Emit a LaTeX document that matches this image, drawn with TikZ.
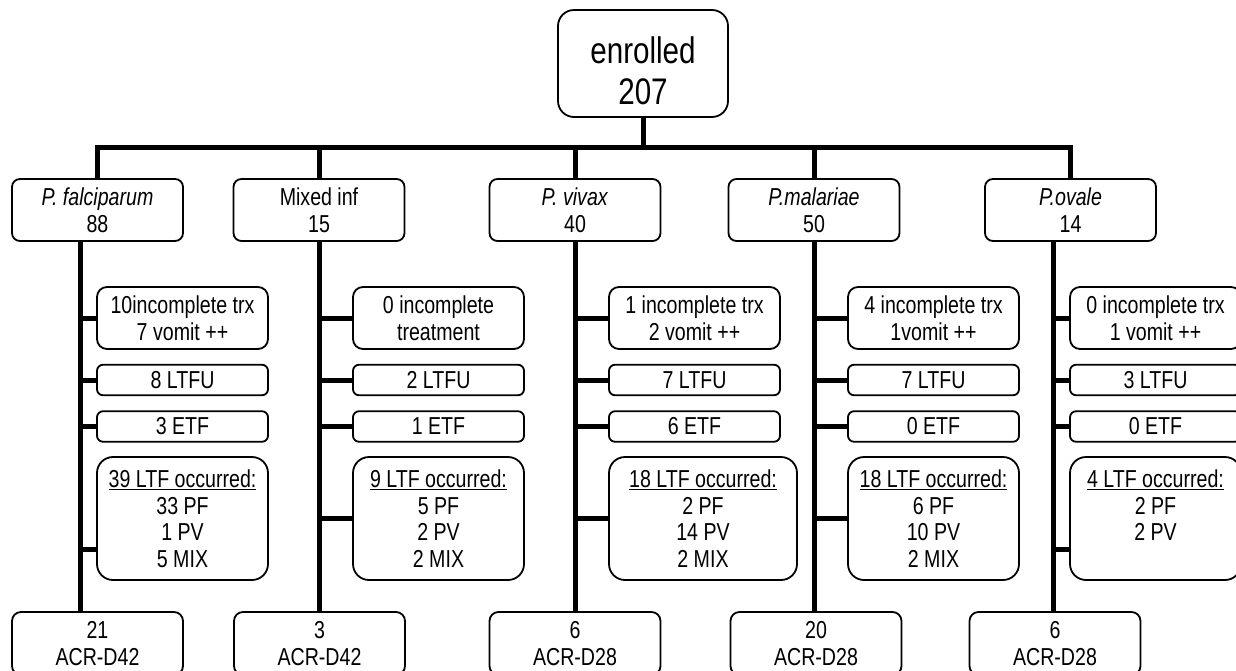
\documentclass[tikz,border=0pt]{standalone}
\usepackage{fontspec}
\setmainfont{Liberation Sans}[FakeStretch=0.8]
\usetikzlibrary{backgrounds}
\begin{document}
\begin{tikzpicture}[x=1pt,y=-1pt,
  box/.style={draw, line width=1.8pt, rounded corners=8pt, fill=white, align=center,
    inner sep=0pt, minimum width=171pt, font=\fontsize{24.5}{26.5}\selectfont},
  toprow/.style={box, minimum height=62pt},
  twoline/.style={box, minimum height=62pt, rounded corners=10pt},
  oneline/.style={box, minimum height=30.5pt, rounded corners=6pt},
  ltfbox/.style={box, minimum height=123pt, rounded corners=16pt},
  endbox/.style={box, minimum height=63pt, rounded corners=9pt},
  conn/.style={line width=5pt}]
\useasboundingbox (0,0) rectangle (1236,670);

% root
\node[box, minimum width=170pt, minimum height=107pt, rounded corners=16pt,
      font=\fontsize{37}{41}\selectfont] (root) at (643,63.5)
      {\raisebox{-19pt}[0pt][0pt]{\begin{tabular}{@{}c@{}}enrolled\\207\end{tabular}}};

% first row
\node[toprow] (f1) at (97.5,210) {\textit{P. falciparum}\\88};
\node[toprow] (m1) at (319,210) {Mixed inf\\15};
\node[toprow] (v1) at (575,210) {\textit{P. vivax}\\40};
\node[toprow] (a1) at (814,210) {\textit{P.malariae}\\50};
\node[toprow] (o1) at (1070.5,210) {\textit{P.ovale}\\14};

% falciparum column
\node[twoline] (fa) at (182.5,318) {10incomplete trx\\7 vomit ++};
\node[oneline] (fb) at (182.5,380) {8 LTFU};
\node[oneline] (fc) at (182.5,426.5) {3 ETF};
\node[ltfbox] (fd) at (182.5,518.5) {\underline{39 LTF occurred:}\\33 PF\\1 PV\\5 MIX};
\node[endbox] (fe) at (97.5,643.5) {21\\ACR-D42};

% mixed column
\node[twoline] (ma) at (438.5,318) {0 incomplete\\treatment};
\node[oneline] (mb) at (438.5,380) {2 LTFU};
\node[oneline] (mc) at (438.5,426.5) {1 ETF};
\node[ltfbox] (md) at (438.5,518.5) {\underline{9 LTF occurred:}\\5 PF\\2 PV\\2 MIX};
\node[endbox] (me) at (319.5,643.5) {3\\ACR-D42};

% vivax column
\node[twoline] (va) at (694.5,318) {1 incomplete trx\\2 vomit ++};
\node[oneline] (vb) at (694.5,380) {7 LTFU};
\node[oneline] (vc) at (694.5,426.5) {6 ETF};
\node[ltfbox, minimum width=188pt] (vd) at (703,518.5) {\underline{18 LTF occurred:}\\2 PF\\14 PV\\2 MIX};
\node[endbox] (ve) at (575,643.5) {6\\ACR-D28};

% malariae column
\node[twoline] (aa) at (933.5,318) {4 incomplete trx\\1vomit ++};
\node[oneline] (ab) at (933.5,380) {7 LTFU};
\node[oneline] (ac) at (933.5,426.5) {0 ETF};
\node[ltfbox] (ad) at (933.5,518.5) {\underline{18 LTF occurred:}\\6 PF\\10 PV\\2 MIX};
\node[endbox] (ae) at (816,643.5) {20\\ACR-D28};

% ovale column
\node[twoline] (oa) at (1155.5,318) {0 incomplete trx\\1 vomit ++};
\node[oneline] (ob) at (1155.5,380) {3 LTFU};
\node[oneline] (oc) at (1155.5,426.5) {0 ETF};
\node[ltfbox] (od) at (1155.5,518.5) {\underline{4 LTF occurred:}\\2 PF\\2 PV\\\phantom{2 MIX}};
\node[endbox] (oe) at (1055,643.5) {6\\ACR-D28};

% trunk positions
\coordinate (bus) at (643,147);
\coordinate (ft) at (80,0);
\coordinate (mt) at (319,0);
\coordinate (vt) at (575,0);
\coordinate (at) at (814,0);
\coordinate (ot) at (1053,0);

\begin{scope}[on background layer]
  \fill[white] (0,0) rectangle (1236,670);
  \draw[conn] (root.south) -- (bus);
  \draw[conn] (f1.north) -- (f1.north |- bus) -| (o1.north);
  \draw[conn] (m1.north) -- (m1.north |- bus);
  \draw[conn] (v1.north) -- (v1.north |- bus);
  \draw[conn] (a1.north) -- (a1.north |- bus);
  % trunks
  \draw[conn] (ft |- f1.south) -- (ft |- fe.north);
  \draw[conn] (mt |- m1.south) -- (mt |- me.north);
  \draw[conn] (vt |- v1.south) -- (vt |- ve.north);
  \draw[conn] (at |- a1.south) -- (at |- ae.north);
  \draw[conn] (ot |- o1.south) -- (ot |- oe.north);
  % stubs
  \foreach \c in {f,m,v,a,o}{
    \draw[conn] (\c t |- \c a.west) -- (\c a.west);
    \draw[conn] (\c t |- \c b.west) -- (\c b.west);
    \draw[conn] (\c t |- \c c.west) -- (\c c.west);
  }
  \draw[conn] (ft |- 0,549) -- (fd.west |- 0,549);
  \draw[conn] (mt |- md.west) -- (md.west);
  \draw[conn] (vt |- vd.west) -- (vd.west);
  \draw[conn] (at |- ad.west) -- (ad.west);
  \draw[conn] (ot |- 0,549) -- (od.west |- 0,549);
\end{scope}
\end{tikzpicture}
\end{document}
